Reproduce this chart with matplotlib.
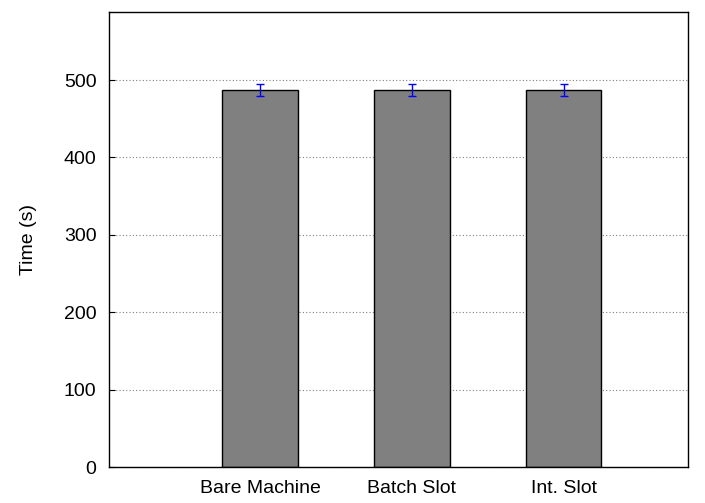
import matplotlib
matplotlib.use("Agg")
import matplotlib.pyplot as plt

categories = ["Bare Machine", "Batch Slot", "Int. Slot"]
values = [487, 487, 487]
errors = [8, 8, 8]
yticks = [0, 100, 200, 300, 400, 500]

plt.rcParams['font.family'] = ['Liberation Sans', 'DejaVu Sans']
FS = 14

fig = plt.figure(figsize=(7.05, 5.03), dpi=100)
ax = fig.add_axes([109/705, 1-467/503, (688-109)/705, (467-12)/503])

x = [1, 2, 3]
ax.bar(x, values, width=0.5, color="#808080", edgecolor="black", linewidth=1.0, zorder=2)
ax.errorbar(x, values, yerr=errors, fmt="none", ecolor="#0000ff", elinewidth=1.0,
            capsize=3, capthick=1.0, zorder=3)

ax.set_xlim(0.005, 3.82)
ax.set_ylim(0, 588)
ax.set_yticks(yticks)
ax.set_xticks(x)
ax.set_xticklabels(categories, fontsize=FS)
ax.tick_params(axis='x', length=0, pad=9.5)
ax.tick_params(axis='y', direction='in', length=4, labelsize=FS, pad=9)
ax.set_ylabel("Time (s)", fontsize=FS, labelpad=19)
ax.yaxis.grid(True, linestyle=(0, (1, 2)), color="#808080", linewidth=0.8, zorder=0)
ax.set_axisbelow(True)
for s in ax.spines.values():
    s.set_linewidth(1.0)

fig.savefig("out.png", dpi=100)
